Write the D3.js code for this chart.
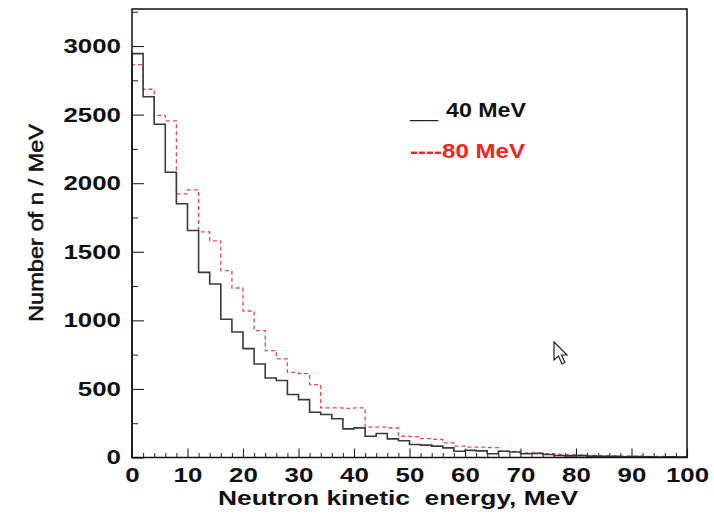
<!DOCTYPE html>
<html>
<head>
<meta charset="utf-8">
<script src="https://cdn.jsdelivr.net/npm/d3@7/dist/d3.min.js"></script>
<style>
  html, body { margin: 0; padding: 0; background: #fff; }
  svg { display: block; }
  text { font-family: "Liberation Sans", Arial, Helvetica, sans-serif; }
</style>
</head>
<body>
<svg id="chart" width="714" height="521"></svg>
<script>
// Lower edges of the 2 MeV energy bins (MeV)
const binLow = [0, 2, 4, 6, 8, 10, 12, 14, 16, 18, 20, 22, 24, 26, 28, 30, 32, 34, 36, 38,
                40, 42, 44, 46, 48, 50, 52, 54, 56, 58, 60, 62, 64, 66, 68, 70, 72, 74, 76, 78,
                80, 82, 84, 86, 88, 90, 92, 94, 96, 98];
const binWidth = 2;

// Neutron yield per MeV, 40 MeV beam
const counts40 = [2945, 2630, 2430, 2080, 1850, 1655, 1350, 1265, 1008, 915,
                  794, 682, 580, 561, 459, 422, 330, 313, 282, 209,
                  216, 155, 175, 136, 122, 95, 90, 83, 70, 46,
                  52, 48, 27, 46, 40, 27, 30, 22, 15, 12,
                  14, 10, 8, 9, 6, 7, 5, 4, 5, 3];

// Neutron yield per MeV, 80 MeV beam
const counts80 = [2865, 2685, 2495, 2455, 1922, 1951, 1645, 1580, 1362, 1236,
                  1068, 925, 779, 719, 620, 612, 531, 362, 362, 358,
                  362, 221, 221, 215, 155, 152, 138, 132, 107, 83,
                  75, 75, 72, 46, 44, 34, 32, 28, 22, 20,
                  18, 16, 14, 12, 11, 10, 8, 8, 7, 6];

const xMajorTicks = [0, 10, 20, 30, 40, 50, 60, 70, 80, 90, 100];
const yMajorTicks = [0, 500, 1000, 1500, 2000, 2500, 3000];
const xDomain = [0, 100];
const yDomain = [0, 3270];

const seriesNames = ["40 MeV", "80 MeV"];
const xTitle = "Neutron kinetic  energy, MeV";
const yTitle = "Number of n / MeV";

const svg = d3.select("#chart");
const plot = { left: 132, right: 687, top: 9, bottom: 457.5 };

const x = d3.scaleLinear().domain(xDomain).range([plot.left, plot.right]);
const y = d3.scaleLinear().domain(yDomain).range([plot.bottom, plot.top]);

const digitW = 14.4;
function stretchLabels(sel) {
  sel.selectAll("text")
    .attr("font-size", 20)
    .attr("font-weight", "bold")
    .attr("fill", "#111")
    .attr("textLength", function () { return this.textContent.length * digitW; })
    .attr("lengthAdjust", "spacingAndGlyphs");
}

// minor ticks
const xMinor = d3.range(xDomain[0], xDomain[1] + 0.001, binWidth).filter(v => v % 10 !== 0);
const yMinor = d3.range(250, yDomain[1], 500);

svg.append("g")
  .attr("transform", `translate(0,${plot.bottom})`)
  .call(d3.axisBottom(x).tickValues(xMinor).tickSize(-4.5).tickFormat(""))
  .call(g => g.select(".domain").remove())
  .call(g => g.selectAll("line").attr("stroke", "#222").attr("stroke-width", 1));

svg.append("g")
  .attr("transform", `translate(${plot.left},0)`)
  .call(d3.axisLeft(y).tickValues(yMinor).tickSize(-6).tickFormat(""))
  .call(g => g.select(".domain").remove())
  .call(g => g.selectAll("line").attr("stroke", "#222").attr("stroke-width", 1));

// major ticks + labels
const xAxis = svg.append("g")
  .attr("transform", `translate(0,${plot.bottom})`)
  .call(d3.axisBottom(x).tickValues(xMajorTicks).tickSize(-9).tickPadding(10).tickFormat(d3.format("d")))
  .call(g => g.select(".domain").remove())
  .call(g => g.selectAll("line").attr("stroke", "#222").attr("stroke-width", 1.1));
stretchLabels(xAxis);
xAxis.selectAll("text").attr("y", 10).attr("dy", "0.72em");

const yAxis = svg.append("g")
  .attr("transform", `translate(${plot.left},0)`)
  .call(d3.axisLeft(y).tickValues(yMajorTicks).tickSize(-12).tickPadding(11).tickFormat(d3.format("d")))
  .call(g => g.select(".domain").remove())
  .call(g => g.selectAll("line").attr("stroke", "#222").attr("stroke-width", 1.1));
stretchLabels(yAxis);

// step outline for a histogram series
function stepPoints(values) {
  const pts = [[binLow[0], 0]];
  values.forEach((v, i) => {
    pts.push([binLow[i], v]);
    pts.push([binLow[i] + binWidth, v]);
  });
  pts.push([binLow[binLow.length - 1] + binWidth, 0]);
  return pts;
}
const line = d3.line().x(d => x(d[0])).y(d => y(d[1]));

svg.append("path")
  .datum(stepPoints(counts80))
  .attr("d", line)
  .attr("fill", "none")
  .attr("stroke", "#ec4a4a")
  .attr("stroke-width", 1.3)
  .attr("stroke-dasharray", "4,3");

svg.append("path")
  .datum(stepPoints(counts40))
  .attr("d", line)
  .attr("fill", "none")
  .attr("stroke", "#3a3a3a")
  .attr("stroke-width", 1.6);

// frame
svg.append("rect")
  .attr("x", plot.left).attr("y", plot.top)
  .attr("width", plot.right - plot.left).attr("height", plot.bottom - plot.top)
  .attr("fill", "none").attr("stroke", "#111").attr("stroke-width", 1.5);

// axis titles
svg.append("text")
  .attr("x", 218).attr("y", 505)
  .attr("font-size", 21).attr("font-weight", "bold").attr("fill", "#111")
  .style("white-space", "pre")
  .attr("textLength", 360).attr("lengthAdjust", "spacingAndGlyphs")
  .text(xTitle);

svg.append("text")
  .attr("transform", "translate(43,223) rotate(-90)")
  .attr("text-anchor", "middle")
  .attr("font-size", 20).attr("fill", "#111")
  .attr("stroke", "#111").attr("stroke-width", 0.5)
  .attr("textLength", 198).attr("lengthAdjust", "spacingAndGlyphs")
  .text(yTitle);

// legend
const legend = svg.append("g");
legend.append("text")
  .attr("x", 410).attr("y", 117)
  .attr("font-size", 20).attr("fill", "#222")
  .attr("textLength", 28).attr("lengthAdjust", "spacingAndGlyphs")
  .text("___");
legend.append("text")
  .attr("x", 446).attr("y", 116.5)
  .attr("font-size", 20).attr("font-weight", "bold").attr("fill", "#111")
  .attr("textLength", 80).attr("lengthAdjust", "spacingAndGlyphs")
  .text(seriesNames[0]);
legend.append("text")
  .attr("x", 410).attr("y", 158)
  .attr("font-size", 20).attr("font-weight", "bold").attr("fill", "#f42222")
  .attr("textLength", 115).attr("lengthAdjust", "spacingAndGlyphs")
  .text("----" + seriesNames[1]);

// mouse pointer
svg.append("path")
  .attr("transform", "translate(554,342)")
  .attr("d", "M0,0 L0,18 L4.5,14 L8,22 L11,20.5 L7.5,13 L13,13 Z")
  .attr("fill", "#fff").attr("stroke", "#222").attr("stroke-width", 1.2)
  .attr("stroke-linejoin", "miter");
</script>
</body>
</html>
